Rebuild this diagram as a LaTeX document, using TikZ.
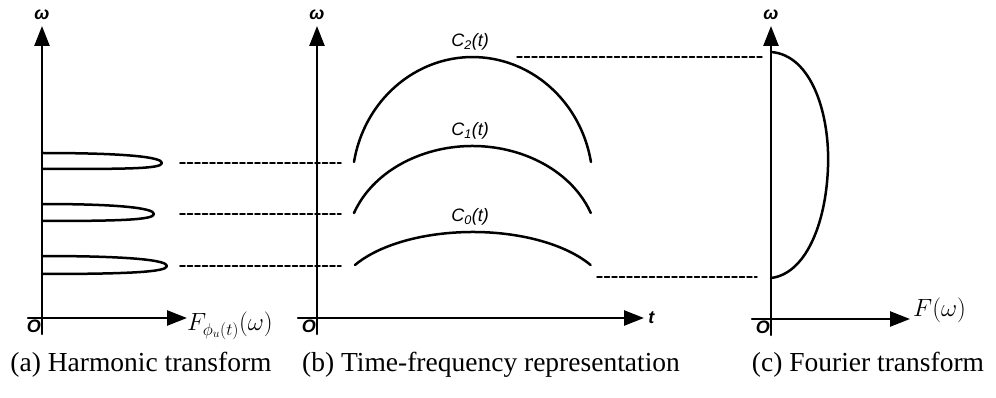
\documentclass[tikz,border=0pt]{standalone}
\usepackage{fontspec}
\setmainfont{Liberation Serif}
\newfontfamily\labelfont{Liberation Sans}
\usetikzlibrary{arrows.meta}

\begin{document}
\begin{tikzpicture}[x=1pt, y=-1pt, line cap=round, line join=round,
    >={Triangle[length=20pt, width=15pt]},
    axis/.style={->, line width=2.5pt},
    curve/.style={line width=2.5pt},
    guide/.style={line width=1.8pt, dash pattern=on 5pt off 2.5pt},
    axlabel/.style={font=\labelfont\bfseries\itshape\fontsize{18}{18}\selectfont, inner sep=0pt},
    clabel/.style={font=\labelfont\itshape\fontsize{18}{18}\selectfont, inner sep=0pt},
    caption/.style={font=\fontsize{27.5}{30}\selectfont, inner sep=0pt, anchor=base}]

    \useasboundingbox (0,0) rectangle (996,398);

    % ------------------------------------------------------------------
    % (a) Harmonic transform
    % ------------------------------------------------------------------
    \coordinate (Oa) at (42,318);
    \draw[axis] (42,334) -- (42,26) node[axlabel, above=5pt] (wa) {ω};
    \draw[axis] (28,318) -- (187,318);
    \node[axlabel, anchor=north east] (oa) at (41,320) {O};
    \node[anchor=west, inner sep=0pt, font=\fontsize{25}{25}\selectfont] (fa) at (187,326)
        {$F_{\phi_u(t)}(\omega)$};

    % three harmonic lobes
    \draw[curve] (42,153) .. controls (125,153) and (162,157) .. (162,163) coordinate (la2)
        .. controls (162,169) and (125,169) .. (42,169);
    \draw[curve] (42,204) .. controls (118,204) and (154,208) .. (154,214) coordinate (la1)
        .. controls (154,220) and (118,221) .. (42,221);
    \draw[curve] (42,256) .. controls (128,256) and (167,260) .. (167,266) coordinate (la0)
        .. controls (167,272) and (128,274) .. (42,274);

    % ------------------------------------------------------------------
    % (b) Time-frequency representation
    % ------------------------------------------------------------------
    \coordinate (Ob) at (317,318);
    \draw[axis] (317,334) -- (317,26) node[axlabel, above=5pt] (wb) {ω};
    \draw[axis] (298,318) -- (644,318) node[axlabel, right=3pt] (tb) {t};
    \node[axlabel, anchor=north east] (ob) at (316,320) {O};

    % ridge curves
    \draw[curve] (354,162) coordinate (c2s) arc[start angle=190, end angle=350, x radius=120.3, y radius=127]
        coordinate (c2e);
    \draw[curve] (354,213) coordinate (c1s) arc[start angle=200, end angle=340, x radius=126, y radius=101.8]
        coordinate (c1e);
    \draw[curve] (355,265) coordinate (c0s) arc[start angle=210, end angle=330, x radius=136, y radius=66]
        coordinate (c0e);
    \node[clabel] (c2) at (470,42) {C\textsubscript{2}(t)};
    \node[clabel] (c1) at (470,131) {C\textsubscript{1}(t)};
    \node[clabel] (c0) at (470,217) {C\textsubscript{0}(t)};

    % ------------------------------------------------------------------
    % (c) Fourier transform
    % ------------------------------------------------------------------
    \coordinate (Oc) at (771,319);
    \draw[axis] (771,335) -- (771,26) node[axlabel, above=5pt] (wc) {ω};
    \draw[axis] (752,319) -- (910,319);
    \node[axlabel, anchor=north east] (oc) at (770,321) {O};
    \node[anchor=west, inner sep=0pt, font=\fontsize{25}{25}\selectfont] (fc) at (913,310)
        {$F(\omega)$};
    \draw[curve] (771,52) coordinate (ft) .. controls (812,55) and (830,115) .. (828,167)
        .. controls (826,225) and (805,274) .. (771,278) coordinate (fb);

    % ------------------------------------------------------------------
    % dashed guides between the panels
    % ------------------------------------------------------------------
    \coordinate (ga2) at (180,163); \coordinate (gb2) at (341,163);
    \coordinate (ga1) at (180,214); \coordinate (gb1) at (341,214);
    \coordinate (ga0) at (180,266); \coordinate (gb0) at (341,266);
    \draw[guide] (ga2) -- (gb2);
    \draw[guide] (ga1) -- (gb1);
    \draw[guide] (ga0) -- (gb0);
    \coordinate (gt) at (517,57);  \coordinate (gtc) at (762,57);
    \coordinate (gl) at (597,277); \coordinate (glc) at (757,277);
    \draw[guide, line width=1.4pt] (gt) -- (gtc);
    \draw[guide, line width=1.4pt] (gl) -- (glc);

    % ------------------------------------------------------------------
    % captions
    % ------------------------------------------------------------------
    \node[caption] (capa) at (141,371) {(a) Harmonic transform};
    \node[caption] (capb) at (491,371) {(b) Time-frequency representation};
    \node[caption] (capc) at (868,371) {(c) Fourier transform};

\end{tikzpicture}
\end{document}
